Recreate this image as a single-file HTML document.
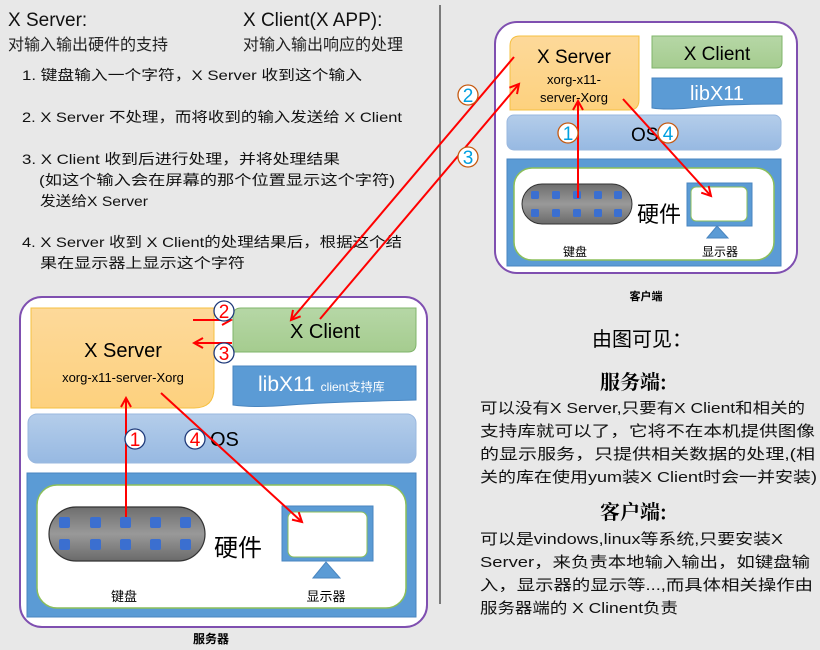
<!DOCTYPE html>
<html><head><meta charset="utf-8"><style>
html,body{margin:0;padding:0;background:#e8e8e8;}
svg{display:block;font-family:"Liberation Sans","Noto Sans CJK SC",sans-serif;}
</style></head><body>
<svg width="820" height="650" viewBox="0 0 820 650" xmlns="http://www.w3.org/2000/svg">
<defs>
<marker id="ah" markerWidth="12" markerHeight="12" refX="10" refY="6" orient="auto" markerUnits="userSpaceOnUse">
<path d="M1,1 L10,6 L1,11" fill="none" stroke="#f00" stroke-width="2"/></marker>
<linearGradient id="og" x1="0" y1="0" x2="0" y2="1"><stop offset="0" stop-color="#fdd99a"/><stop offset="1" stop-color="#fdd17e"/></linearGradient>
<linearGradient id="gg" x1="0" y1="0" x2="0" y2="1"><stop offset="0" stop-color="#b6d7a6"/><stop offset="1" stop-color="#a5cc8f"/></linearGradient>
<linearGradient id="bg" x1="0" y1="0" x2="0" y2="1"><stop offset="0" stop-color="#b4cdea"/><stop offset="1" stop-color="#97b9e2"/></linearGradient>
<linearGradient id="kg" x1="0" y1="0" x2="0" y2="1"><stop offset="0" stop-color="#6e6e6e"/><stop offset="0.5" stop-color="#999"/><stop offset="1" stop-color="#6a6a6a"/></linearGradient>
</defs>
<rect width="820" height="650" fill="#e8e8e8"/>
<line x1="440" y1="5" x2="440" y2="604" stroke="#555" stroke-width="1.5"/>

<g fill="#111">
<text x="8" y="26" font-size="19">X Server:</text>
<text x="8" y="50" font-size="16" fill="#222">对输入输出硬件的支持</text>
<text x="243" y="26" font-size="19">X Client(X APP):</text>
<text x="243" y="50" font-size="16" fill="#222">对输入输出响应的处理</text>
</g>
<g font-size="14" fill="#111">
<text x="22" y="80" textLength="340" lengthAdjust="spacingAndGlyphs">1. 键盘输入一个字符，X Server 收到这个输入</text>
<text x="22" y="122" textLength="380" lengthAdjust="spacingAndGlyphs">2. X Server 不处理，而将收到的输入发送给 X Client</text>
<text x="22" y="164" textLength="318" lengthAdjust="spacingAndGlyphs">3. X Client 收到后进行处理，并将处理结果</text>
<text x="39" y="185" textLength="356" lengthAdjust="spacingAndGlyphs">(如这个输入会在屏幕的那个位置显示这个字符)</text>
<text x="40" y="206" textLength="108" lengthAdjust="spacingAndGlyphs">发送给X Server</text>
<text x="22" y="247" textLength="380" lengthAdjust="spacingAndGlyphs">4. X Server 收到 X Client的处理结果后，根据这个结</text>
<text x="40" y="268" textLength="205" lengthAdjust="spacingAndGlyphs">果在显示器上显示这个字符</text>
</g>

<!-- SERVER box -->
<rect x="20" y="297" width="407" height="330" rx="22" fill="#fff" stroke="#7f4fb0" stroke-width="2"/>
<path d="M31,308 H214 V388 Q214,408 194,408 H31 Z" fill="url(#og)" stroke="#f5c040" stroke-width="1"/>
<text x="123" y="357" font-size="20" text-anchor="middle">X Server</text>
<text x="123" y="382" font-size="13" text-anchor="middle">xorg-x11-server-Xorg</text>
<path d="M241,308 H416 V344 Q416,352 408,352 H233 V316 Q233,308 241,308 Z" fill="url(#gg)" stroke="#7fb46a" stroke-width="1"/>
<text x="325" y="338" font-size="20" text-anchor="middle">X Client</text>
<path d="M233,366 H416 V400 Q330,402 290,405 Q255,408 233,405 Z" fill="#5b9bd5" stroke="#4a86c0" stroke-width="1"/>
<text x="258" y="391" font-size="21" fill="#fff">libX11 <tspan font-size="12">client支持库</tspan></text>
<rect x="28" y="414" width="388" height="49" rx="9" fill="url(#bg)" stroke="#9ab8df"/>
<text x="210" y="446" font-size="20">OS</text>
<rect x="27" y="473" width="389" height="144" fill="#5b9bd5" stroke="#4a86c0"/>
<rect x="37" y="485" width="369" height="123" rx="20" fill="#fff" stroke="#8cbf5a" stroke-width="1.5"/>
<rect x="49" y="507" width="156" height="54" rx="27" fill="url(#kg)" stroke="#333" stroke-width="1.2"/>
<g fill="#3b6fd0">
<rect x="59" y="517" width="11" height="11" rx="2"/><rect x="90" y="517" width="11" height="11" rx="2"/><rect x="120" y="517" width="11" height="11" rx="2"/><rect x="150" y="517" width="11" height="11" rx="2"/><rect x="180" y="517" width="11" height="11" rx="2"/>
<rect x="59" y="539" width="11" height="11" rx="2"/><rect x="90" y="539" width="11" height="11" rx="2"/><rect x="120" y="539" width="11" height="11" rx="2"/><rect x="150" y="539" width="11" height="11" rx="2"/><rect x="180" y="539" width="11" height="11" rx="2"/>
</g>
<text x="214" y="556" font-size="24">硬件</text>
<rect x="282" y="506" width="91" height="55" fill="#5b9bd5" stroke="#4a86c0"/>
<rect x="288" y="512" width="79" height="45" rx="6" fill="#fff" stroke="#8cbf5a"/>
<path d="M313,578 L326,562 L340,578 Z" fill="#5b9bd5" stroke="#4a86c0"/>
<text x="124" y="601" font-size="13" text-anchor="middle">键盘</text>
<text x="326" y="601" font-size="13" text-anchor="middle">显示器</text>
<text x="211" y="643" font-size="12" font-weight="bold" text-anchor="middle">服务器</text>

<!-- CLIENT box -->
<rect x="495" y="22" width="302" height="251" rx="22" fill="#fff" stroke="#7f4fb0" stroke-width="2"/>
<path d="M520,36 H639 V100 Q639,110 629,110 H510 V46 Q510,36 520,36 Z" fill="url(#og)" stroke="#f5c040"/>
<text x="574" y="63" font-size="19" text-anchor="middle">X Server</text>
<text x="574" y="84" font-size="13" text-anchor="middle">xorg-x11-</text>
<text x="574" y="102" font-size="13" text-anchor="middle">server-Xorg</text>
<path d="M652,36 H782 V62 Q782,68 776,68 H652 Z" fill="url(#gg)" stroke="#7fb46a"/>
<text x="717" y="60" font-size="19" text-anchor="middle">X Client</text>
<path d="M652,78 H782 V104 Q720,104 690,108 Q665,110 652,108 Z" fill="#5b9bd5" stroke="#4a86c0"/>
<text x="717" y="100" font-size="20" fill="#fff" text-anchor="middle">libX11</text>
<rect x="507" y="115" width="274" height="35" rx="7" fill="url(#bg)" stroke="#9ab8df"/>
<text x="631" y="141" font-size="19">OS</text>
<rect x="507" y="159" width="274" height="107" fill="#5b9bd5" stroke="#4a86c0"/>
<rect x="514" y="168" width="260" height="92" rx="18" fill="#fff" stroke="#8cbf5a" stroke-width="1.5"/>
<rect x="522" y="184" width="110" height="40" rx="20" fill="url(#kg)" stroke="#333"/>
<g fill="#3b6fd0">
<rect x="531" y="191" width="8" height="8" rx="1.5"/><rect x="552" y="191" width="8" height="8" rx="1.5"/><rect x="573" y="191" width="8" height="8" rx="1.5"/><rect x="594" y="191" width="8" height="8" rx="1.5"/><rect x="614" y="191" width="8" height="8" rx="1.5"/>
<rect x="531" y="209" width="8" height="8" rx="1.5"/><rect x="552" y="209" width="8" height="8" rx="1.5"/><rect x="573" y="209" width="8" height="8" rx="1.5"/><rect x="594" y="209" width="8" height="8" rx="1.5"/><rect x="614" y="209" width="8" height="8" rx="1.5"/>
</g>
<text x="637" y="222" font-size="22">硬件</text>
<rect x="687" y="183" width="65" height="43" fill="#5b9bd5" stroke="#4a86c0"/>
<rect x="691" y="187" width="56" height="34" rx="5" fill="#fff" stroke="#8cbf5a"/>
<path d="M707,238 L717,226 L728,238 Z" fill="#5b9bd5" stroke="#4a86c0"/>
<text x="575" y="256" font-size="12" text-anchor="middle">键盘</text>
<text x="720" y="256" font-size="12" text-anchor="middle">显示器</text>
<text x="646" y="300" font-size="11" font-weight="bold" text-anchor="middle">客户端</text>

<!-- arrows -->
<g stroke="#f00" stroke-width="2" fill="none">
<line x1="193" y1="320" x2="231" y2="320" marker-end="url(#ah)"/>
<line x1="232" y1="343" x2="194" y2="343" marker-end="url(#ah)"/>
<line x1="126" y1="517" x2="126" y2="398" marker-end="url(#ah)"/>
<line x1="161" y1="393" x2="302" y2="522" marker-end="url(#ah)"/>
<line x1="514" y1="57" x2="291" y2="320" marker-end="url(#ah)"/>
<line x1="320" y1="319" x2="519" y2="84" marker-end="url(#ah)"/>
<line x1="578" y1="198" x2="578" y2="101" marker-end="url(#ah)"/>
<line x1="623" y1="99" x2="711" y2="196" marker-end="url(#ah)"/>
</g>
<g font-size="19" text-anchor="middle">
<circle cx="224" cy="311" r="10" fill="#fff" stroke="#1f3a7a" stroke-width="1.3"/><text x="224" y="318" fill="#f00">2</text>
<circle cx="224" cy="353" r="10" fill="#fff" stroke="#1f3a7a" stroke-width="1.3"/><text x="224" y="360" fill="#f00">3</text>
<circle cx="135" cy="439" r="10" fill="#fff" stroke="#1f3a7a" stroke-width="1.3"/><text x="135" y="446" fill="#f00">1</text>
<circle cx="195" cy="439" r="10" fill="#fff" stroke="#1f3a7a" stroke-width="1.3"/><text x="195" y="446" fill="#f00">4</text>
<circle cx="468" cy="95" r="10" fill="#fff" stroke="#c55a11" stroke-width="1.3"/><text x="468" y="102" fill="#00a0e0">2</text>
<circle cx="468" cy="157" r="10" fill="#fff" stroke="#c55a11" stroke-width="1.3"/><text x="468" y="164" fill="#00a0e0">3</text>
<circle cx="568" cy="133" r="10" fill="#fff" stroke="#c55a11" stroke-width="1.3"/><text x="568" y="140" fill="#00a0e0">1</text>
<circle cx="668" cy="133" r="10" fill="#fff" stroke="#c55a11" stroke-width="1.3"/><text x="668" y="140" fill="#00a0e0">4</text>
</g>

<text x="592" y="346" font-size="20">由图可见：</text>
<text x="600" y="389" font-size="20" font-weight="bold" font-family="'Noto Serif CJK SC','Liberation Serif',serif">服务端:</text>
<g font-size="15" fill="#111">
<text x="480" y="413" textLength="325" lengthAdjust="spacingAndGlyphs">可以没有X Server,只要有X Client和相关的</text>
<text x="480" y="436" textLength="335" lengthAdjust="spacingAndGlyphs">支持库就可以了，它将不在本机提供图像</text>
<text x="480" y="459" textLength="335" lengthAdjust="spacingAndGlyphs">的显示服务，只提供相关数据的处理,(相</text>
<text x="480" y="482" textLength="337" lengthAdjust="spacingAndGlyphs">关的库在使用yum装X Client时会一并安装)</text>
</g>
<text x="600" y="519" font-size="20" font-weight="bold" font-family="'Noto Serif CJK SC','Liberation Serif',serif">客户端:</text>
<g font-size="15" fill="#111">
<text x="480" y="544" textLength="303" lengthAdjust="spacingAndGlyphs">可以是vindows,linux等系统,只要安装X</text>
<text x="480" y="567" textLength="330" lengthAdjust="spacingAndGlyphs">Server，来负责本地输入输出，如键盘输</text>
<text x="480" y="590" textLength="333" lengthAdjust="spacingAndGlyphs">入，显示器的显示等...,而具体相关操作由</text>
<text x="480" y="613" textLength="198" lengthAdjust="spacingAndGlyphs">服务器端的 X Clinent负责</text>
</g>
</svg>
</body></html>
